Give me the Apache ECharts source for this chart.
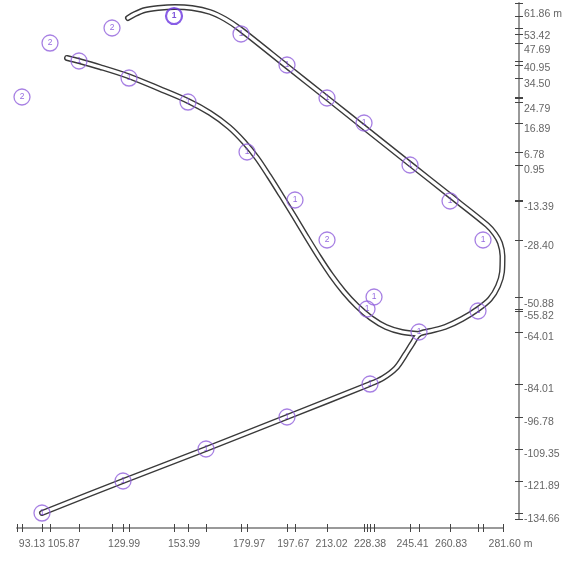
<!DOCTYPE html>
<html><head><meta charset="utf-8">
<script src="https://cdn.jsdelivr.net/npm/echarts@6/dist/echarts.min.js"></script>
<style>html,body{margin:0;padding:0;background:#fff}#c{width:573px;height:562px}</style>
</head><body><div id="c"></div>
<script>
// Axis ranges and tick labels
const xMin = 87.13, xMax = 281.6;
const yMin = -134.66, yMax = 66.14;
const xLabelValues = [93.13, 105.87, 129.99, 153.99, 179.97, 197.67, 213.02, 228.38, 245.41, 260.83, 281.60];
const xLabelTexts = ['93.13', '105.87', '129.99', '153.99', '179.97', '197.67', '213.02', '228.38', '245.41', '260.83', '281.60 m'];
const yLabelValues = [61.86, 53.42, 47.69, 40.95, 34.50, 24.79, 16.89, 6.78, 0.95, -13.39, -28.40, -50.88, -55.82, -64.01, -84.01, -96.78, -109.35, -121.89, -134.66];
const yLabelTexts = ['61.86 m', '53.42', '47.69', '40.95', '34.50', '24.79', '16.89', '6.78', '0.95', '-13.39', '-28.40', '-50.88', '-55.82', '-64.01', '-84.01', '-96.78', '-109.35', '-121.89', '-134.66'];

// Road: main track (start -> junction -> loop -> top end)
const roadMainX = [97.13, 129.55, 162.76, 195.17, 228.39, 233.59, 238.79, 242.39, 245.19, 247.99, 252.40, 258.40, 265.20, 271.60, 276.41, 279.61, 281.21, 281.40, 280.41, 278.41, 275.21, 260.40, 244.39, 225.99, 211.18, 195.17, 176.37, 170.36, 164.36, 157.16, 150.36, 143.55, 138.35, 134.35, 131.55];
const roadMainY = [-132.33, -119.87, -107.42, -94.97, -82.13, -79.79, -75.90, -70.84, -66.56, -62.67, -61.50, -59.94, -56.83, -52.94, -49.05, -43.99, -38.54, -32.31, -27.26, -23.75, -20.25, -8.81, 3.52, 17.73, 29.17, 41.51, 56.02, 59.91, 62.64, 64.19, 64.58, 64.19, 63.42, 61.86, 60.30];
// Road: branch from junction to upper-left end
const roadBranchX = [247.99, 241.19, 234.79, 228.79, 223.18, 217.98, 212.78, 207.98, 202.78, 197.97, 192.77, 187.97, 183.17, 177.97, 171.96, 164.36, 155.56, 144.35, 131.55, 120.34, 111.94, 107.14];
const roadBranchY = [-62.67, -61.89, -59.94, -56.44, -51.77, -46.32, -39.71, -32.70, -24.53, -16.75, -8.58, -1.18, 5.82, 12.05, 17.89, 23.33, 28.00, 32.67, 37.73, 41.23, 43.57, 44.74];

// Marker circles
const circleX = [97.13, 129.55, 162.76, 195.17, 228.39, 247.99, 271.60, 273.60, 260.40, 244.39, 225.99, 211.18, 195.17, 176.77, 149.96, 111.94, 131.95, 155.56, 179.17, 198.37, 227.19, 229.99, 100.34, 125.15, 89.13, 211.18];
const circleY = [-132.33, -119.87, -107.42, -94.97, -82.13, -61.89, -53.72, -26.09, -10.91, 3.10, 19.44, 29.17, 42.01, 54.08, 61.08, 43.57, 36.95, 27.61, 8.16, -10.52, -52.94, -48.27, 50.57, 56.41, 29.56, -26.09];
const circleLabel = ['1','1','1','1','1','1','1','1','1','1','1','1','1','1','1','1','1','1','1','1','1','1','2','2','2','2'];
const highlighted = 14;

const xTicks = [xMin, ...circleX, xMax];
const yTicks = [yMin, ...circleY, yMax];

function pts(xs, ys) { return xs.map((x, i) => [x, ys[i]]); }
function lookup(vals, texts, v) {
  for (let i = 0; i < vals.length; i++) if (Math.abs(vals[i] - v) < 1e-6) return texts[i];
  return '';
}

const labelStyle = { color: '#666', fontSize: 10.5, fontFamily: 'Liberation Sans, Arial, sans-serif' };
const axisLineStyle = { color: '#999', width: 2 };
const tickStyle = { color: '#444', width: 1 };

const roadSeries = [];
[[roadMainX, roadMainY], [roadBranchX, roadBranchY]].forEach(([xs, ys]) => {
  roadSeries.push({ type: 'line', data: pts(xs, ys), smooth: 0.3, symbol: 'none', clip: false,
    lineStyle: { color: '#3a3a3a', width: 6, cap: 'round', join: 'round' }, z: 2, silent: true });
  roadSeries.push({ type: 'line', data: pts(xs, ys), smooth: 0.3, symbol: 'none', clip: false,
    lineStyle: { color: '#fff', width: 3.2, cap: 'round', join: 'round' }, z: 3, silent: true });
});

const circleData = circleX.map((x, i) => {
  const d = { value: [x, circleY[i], circleLabel[i]] };
  if (i === highlighted) {
    d.itemStyle = { borderColor: '#6a35e0', borderWidth: 2.2 };
    d.label = { color: '#5a25d0', fontWeight: 'bold' };
  }
  return d;
});

const chart = echarts.init(document.getElementById('c'), null, { renderer: 'canvas' });
chart.setOption({
  animation: false,
  backgroundColor: '#fff',
  grid: { left: 17, right: 70, top: 3, bottom: 43 },
  xAxis: [
    { type: 'value', min: xMin, max: xMax, position: 'bottom', offset: 9,
      axisLine: { show: true, onZero: false, lineStyle: axisLineStyle },
      axisTick: { show: true, length: 4, customValues: xTicks, lineStyle: tickStyle },
      axisLabel: { show: true, margin: 11, customValues: xLabelValues, ...labelStyle,
        formatter: v => { const t = lookup(xLabelValues, xLabelTexts, v); return t.endsWith(' m') ? '{p|}' + t : t; },
        rich: { p: { width: 15 } } },
      splitLine: { show: false } },
    { type: 'value', min: xMin, max: xMax, position: 'bottom', offset: 9,
      axisLine: { show: false, onZero: false },
      axisTick: { show: true, inside: true, length: 4, customValues: xTicks, lineStyle: tickStyle },
      axisLabel: { show: false }, splitLine: { show: false } }
  ],
  yAxis: [
    { type: 'value', min: yMin, max: yMax, position: 'right', offset: 16,
      axisLine: { show: true, onZero: false, lineStyle: axisLineStyle },
      axisTick: { show: true, length: 4, customValues: yTicks, lineStyle: tickStyle },
      axisLabel: { show: true, margin: 5, customValues: yLabelValues, ...labelStyle, align: 'left',
        formatter: v => lookup(yLabelValues, yLabelTexts, v) },
      splitLine: { show: false } },
    { type: 'value', min: yMin, max: yMax, position: 'right', offset: 16,
      axisLine: { show: false, onZero: false },
      axisTick: { show: true, inside: true, length: 4, customValues: yTicks, lineStyle: tickStyle },
      axisLabel: { show: false }, splitLine: { show: false } }
  ],
  series: [
    ...roadSeries,
    { type: 'scatter', data: circleData, symbol: 'circle', symbolSize: 16, z: 5, clip: false,
      itemStyle: { color: 'rgba(255,255,255,0)', borderColor: '#9160dc', borderWidth: 1.3 },
      label: { show: true, position: 'inside', formatter: p => p.value[2], color: '#7a45d8', fontSize: 8.5,
        fontFamily: 'Liberation Sans, Arial, sans-serif' } }
  ]
});
</script>
</body></html>
